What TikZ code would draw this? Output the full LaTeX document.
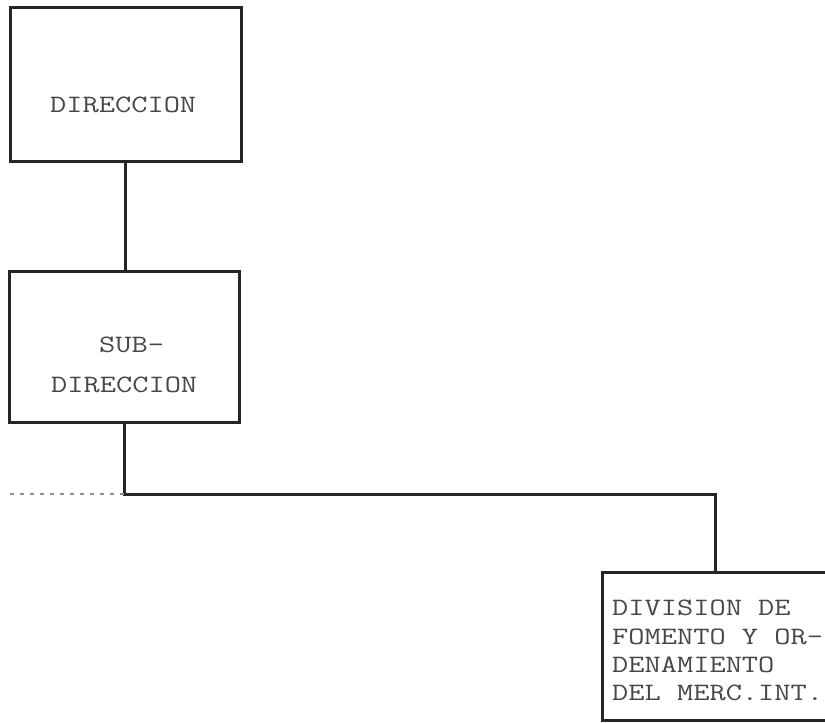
\documentclass[tikz,border=0pt]{standalone}
\usepackage{graphicx}
% wide typewriter lettering: Latin Modern Mono stretched horizontally
\newcommand{\tw}[1]{\scalebox{1.26}[1]{#1}}
\begin{document}
\begin{tikzpicture}[x=1pt,y=-1pt,
  orgbox/.style={draw=black!85, line width=3pt, rectangle, inner sep=0pt},
  label/.style={font=\ttfamily\fontsize{25}{26}\selectfont, text=black!72, inner sep=0pt, anchor=base west},
  link/.style={draw=black!85, line width=3pt},
  faint/.style={draw=black!45, line width=1.6pt, dash pattern=on 4pt off 6pt}]
\useasboundingbox (0,0) rectangle (825,723);
\clip (0,0) rectangle (825,723);

% boxes
\node[orgbox, minimum width=231pt, minimum height=154pt] (dir) at (125.5,84) {};
\node[orgbox, minimum width=230pt, minimum height=151pt] (sub) at (124,346.5) {};
\node[orgbox, minimum width=226pt, minimum height=148pt] (div) at (715,646) {};

% box texts
\node[label] (tdir) at (50,112) {\tw{DIRECCION}};
\node[label] (tsub1) at (99,352) {\tw{SUB-}};
\node[label] (tsub2) at (51,392) {\tw{DIRECCION}};
\node[label] (tdiv1) at (612,615) {\tw{DIVISION DE}};
\node[label] (tdiv2) at (612,644) {\tw{FOMENTO Y OR-}};
\node[label] (tdiv3) at (612,672) {\tw{DENAMIENTO}};
\node[label] (tdiv4) at (612,700) {\tw{DEL MERC.INT.}};

% connectors
\coordinate (j) at (125,494);
\coordinate (left) at (10,494);
\draw[link] (dir.south) -- (dir.south |- sub.north);
\draw[link] (sub.south) -- (sub.south |- j) -| (div.north);
\draw[faint] (left) -- (j);
\end{tikzpicture}
\end{document}
